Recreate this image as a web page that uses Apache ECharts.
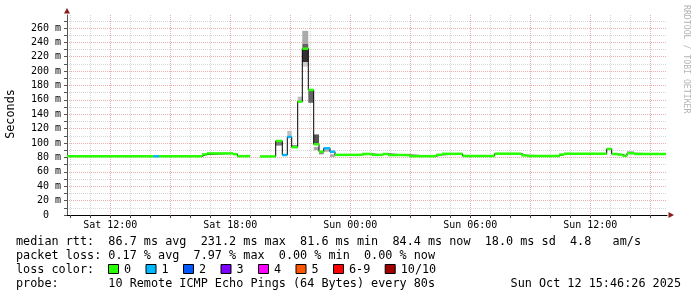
<!DOCTYPE html>
<html><head><meta charset="utf-8">
<script src="https://cdn.jsdelivr.net/npm/echarts@6/dist/echarts.min.js"></script>
<style>html,body{margin:0;padding:0;background:#fff}#c{width:697px;height:297px}</style>
</head><body><div id="c"></div>
<script>
// x values are hours since Sat 00:00
const xMin = 9.835, xMax = 39.835;
const dataEnd = 39.785;
// median rtt steps: start hour, value (ms), lost pings
const segStart = [9.835,14.16,14.435,16.585,16.835,18.135,18.36,18.985,19.485,20.27,20.6,20.85,21.07,21.37,21.6,21.9,22.17,22.435,22.67,22.985,23.235,24.585,25.07,25.62,25.885,26.95,28.285,28.585,29.62,31.22,32.55,32.82,34.435,34.685,36.82,37.07,37.36,37.6,37.835,38.185];
const segValue = [81.6,81.6,81.6,84.2,85.6,84.6,81.8,null,81.4,102.9,83.4,108.5,94.2,157.6,231.2,173.8,98.3,88.0,92.7,88.0,83.6,84.8,83.6,84.8,83.4,81.8,83.6,85.0,82.0,85.2,83.0,82.0,84.0,85.2,91.8,84.8,83.9,82.3,85.8,84.8];
const segLoss  = [0,1,0,0,0,0,0,0,0,0,1,1,0,0,0,0,0,0,1,1,0,0,0,0,0,0,0,0,0,0,0,0,0,0,0,0,0,0,0,0];
// ping smoke bands
const smokeStart = [20.27,20.85,21.07,21.37,21.6,21.6,21.6,21.6,21.9,22.17,22.17,22.435,22.67,22.985,37.835];
const smokeEnd   = [20.6,21.07,21.37,21.6,21.9,21.9,21.9,21.9,22.17,22.435,22.435,22.67,22.985,23.235,38.185];
const smokeLow   = [96.5,110,94.2,158,238,231,212.6,206.3,156,98.3,90,84.4,88,80.7,85.8];
const smokeHigh  = [101.5,117,97.4,164.5,256,238,231,212.6,173,112,94.5,88,91.3,84.4,89];
const smokeGray  = [120,190,150,190,170,100,50,205,100,85,170,136,170,170,190];
const tickHours = [12,18,24,30,36];
const tickLabels = ['Sat 12:00','Sat 18:00','Sun 00:00','Sun 06:00','Sun 12:00'];
const lossLabels = ['0','1','2','3','4','5','6-9','10/10'];
const lossColors = ['#26ff00','#00b8ff','#0059ff','#7e00ff','#ff00ff','#ff5500','#ff0000','#a10000'];
const statLines = [
 'median rtt:  86.7 ms avg  231.2 ms max  81.6 ms min  84.4 ms now  18.0 ms sd  4.8   am/s',
 'packet loss: 0.17 % avg  7.97 % max  0.00 % min  0.00 % now',
 'loss color:',
 'probe:       10 Remote ICMP Echo Pings (64 Bytes) every 80s'
];
const stampText = 'Sun Oct 12 15:46:26 2025';

const MONO = '"DejaVu Sans Mono", monospace';
const RED = '#eab0b0', GRAY = '#d6d6d6';

const stepData = [], segData = [];
for (let i = 0; i < segStart.length; i++) {
  const s = segStart[i], e = i + 1 < segStart.length ? segStart[i + 1] : dataEnd, v = segValue[i];
  if (v == null) { stepData.push([s, null]); continue; }
  stepData.push([s, v]); stepData.push([e, v]);
  segData.push([s, e, v, segLoss[i]]);
}
const smokeData = smokeStart.map((s, i) => [s, smokeEnd[i], smokeLow[i], smokeHigh[i], smokeGray[i]]);
const hourTicks = [];
for (let h = Math.ceil(xMin); h <= xMax; h++) hourTicks.push(h);

const graphic = [];
statLines.forEach((t, i) => graphic.push({type:'text', x:16, y:241.5 + i * 14.1,
  style:{text:t, font:'11.8px ' + MONO, fill:'#000', textVerticalAlign:'middle'}}));
graphic.push({type:'text', x:681, y:241.5 + 3 * 14.1,
  style:{text:stampText, font:'11.8px ' + MONO, fill:'#000', textAlign:'right', textVerticalAlign:'middle'}});
let bx = 108;
lossLabels.forEach((lab, i) => {
  graphic.push({type:'rect', shape:{x:bx + 0.5, y:264.5, width:10, height:9}, style:{fill:lossColors[i], stroke:'#000', lineWidth:1}});
  graphic.push({type:'text', x:bx + 16, y:269.7, style:{text:lab, font:'11.8px ' + MONO, fill:'#000', textVerticalAlign:'middle'}});
  bx += 16 + lab.length * 7.1 + 14.4;
});
graphic.push({type:'text', x:10.5, y:114, rotation:Math.PI / 2,
  style:{text:'Seconds', font:'11.8px ' + MONO, fill:'#000', textAlign:'center', textVerticalAlign:'middle'}});
graphic.push({type:'text', x:686, y:5, rotation:-Math.PI / 2,
  style:{text:'RRDTOOL / TOBI OETIKER', font:'8.2px ' + MONO, fill:'#b4b4b4', textAlign:'left', textVerticalAlign:'middle'}});
graphic.push({type:'polygon', shape:{points:[[67, 8], [64, 13.5], [70, 13.5]]}, style:{fill:'#8c1c1c'}});
graphic.push({type:'polygon', shape:{points:[[674, 215], [668.5, 212], [668.5, 218]]}, style:{fill:'#8c1c1c'}});

const chart = echarts.init(document.getElementById('c'), null, {renderer:'canvas'});
chart.setOption({
  animation:false,
  backgroundColor:'#fff',
  grid:{left:67, right:30, top:15, bottom:82},
  xAxis:{type:'value', min:xMin, max:xMax,
    axisLine:{show:true, onZero:false, lineStyle:{color:'#000', width:1}},
    axisTick:{show:true, customValues:hourTicks, length:3, lineStyle:{color:'#444'}},
    axisLabel:{customValues:tickHours, formatter:v => tickLabels[tickHours.indexOf(v)] || '',
      fontFamily:MONO, fontSize:10, color:'#000', margin:5},
    splitLine:{show:false}},
  yAxis:{type:'value', min:0, max:278, interval:10,
    axisLine:{show:true, lineStyle:{color:'#555'}},
    axisTick:{show:true, length:3, interval:(i, v) => v % 20 === 0, lineStyle:{color:'#555'}},
    axisLabel:{interval:0, showMaxLabel:false, fontFamily:MONO, fontSize:10, color:'#000', margin:6,
      formatter:v => v === 0 ? '0  ' : (v % 20 === 0 && v <= 260 ? v + ' m' : '')},
    splitLine:{show:true, showMaxLine:false, lineStyle:{color:[RED, GRAY], type:[1, 1], width:1}}},
  graphic:graphic,
  series:[
    {type:'custom', z:1, silent:true, data:hourTicks.map(h => [h, 0]), encode:{x:0, y:1}, clip:false,
      renderItem:(p, api) => {
        const h = api.value(0);
        const x = Math.round(api.coord([h, 0])[0]) + 0.5;
        const cs = p.coordSys;
        return {type:'line', shape:{x1:x, y1:cs.y, x2:x, y2:cs.y + cs.height},
          style:{stroke:h % 3 === 0 ? RED : GRAY, lineWidth:1, lineDash:[1, 1]}};
      }},
    {type:'custom', z:2, silent:true, data:smokeData, encode:{x:[0, 1], y:[2, 3]},
      renderItem:(p, api) => {
        const a = api.coord([api.value(0), api.value(3)]), b = api.coord([api.value(1), api.value(2)]);
        const g = api.value(4);
        return {type:'rect', shape:{x:a[0], y:a[1], width:b[0] - a[0], height:b[1] - a[1]}, style:{fill:'rgb(' + g + ',' + g + ',' + g + ')'}};
      }},
    {type:'line', z:3, silent:true, data:stepData, showSymbol:false, connectNulls:false,
      lineStyle:{color:'#000', width:1}},
    {type:'custom', z:4, silent:true, data:segData, encode:{x:[0, 1], y:2},
      renderItem:(p, api) => {
        const v = api.value(2);
        const a = api.coord([api.value(0), v]), b = api.coord([api.value(1), v]);
        return {type:'line', shape:{x1:a[0], y1:a[1], x2:b[0], y2:b[1]}, style:{stroke:lossColors[api.value(3)], lineWidth:2.5}};
      }}
  ]
});
</script></body></html>
